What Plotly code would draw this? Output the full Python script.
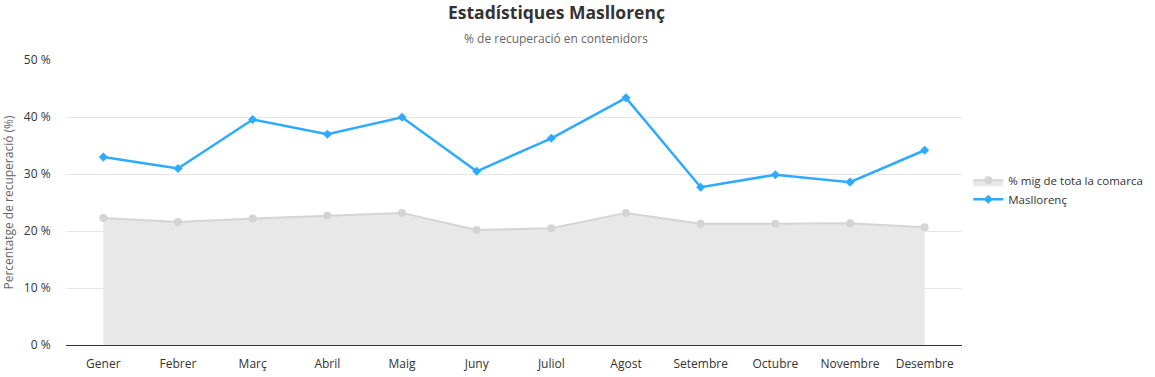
import plotly.graph_objects as go

months = ["Gener", "Febrer", "Març", "Abril", "Maig", "Juny", "Juliol", "Agost",
          "Setembre", "Octubre", "Novembre", "Desembre"]
comarca = [22.3, 21.6, 22.2, 22.7, 23.2, 20.2, 20.5, 23.2, 21.3, 21.3, 21.4, 20.7]
masllorenc = [33.0, 31.0, 39.6, 37.0, 40.0, 30.5, 36.3, 43.4, 27.7, 29.9, 28.6, 34.2]
ytick_vals = [0, 10, 20, 30, 40, 50]
ytick_text = ["0 %", "10 %", "20 %", "30 %", "40 %", "50 %"]

FONT = "Open Sans, Noto Sans, sans-serif"

fig = go.Figure()
fig.add_trace(go.Scatter(
    x=months, y=comarca, name="% mig de tota la comarca",
    mode="lines+markers", fill="tozeroy", fillcolor="#e8e8e8",
    line=dict(color="#d4d4d4", width=2),
    marker=dict(symbol="circle", size=8, color="#d4d4d4"),
))
fig.add_trace(go.Scatter(
    x=months, y=masllorenc, name="Masllorenç",
    mode="lines+markers",
    line=dict(color="#2eaaff", width=2.5),
    marker=dict(symbol="diamond", size=7, color="#2eaaff"),
))

fig.update_layout(
    width=1155, height=377,
    margin=dict(l=66, r=193, t=60, b=32, autoexpand=False),
    paper_bgcolor="white", plot_bgcolor="white",
    font=dict(family=FONT, size=12, color="#333333"),
    showlegend=True,
    legend=dict(x=1.007, y=0.545, xref="paper", yref="paper", xanchor="left", yanchor="middle",
                font=dict(size=11.5, color="#333333"), bgcolor="rgba(0,0,0,0)",
                tracegroupgap=0, itemwidth=30),
    annotations=[
        dict(text="<b>Estadístiques Masllorenç</b>", x=0.547, xref="paper", y=1.168, yref="paper",
             yanchor="middle", showarrow=False, font=dict(size=17.5, color="#333333", family=FONT),
             xanchor="center"),
        dict(text="% de recuperació en contenidors", x=0.547, xref="paper", y=1.077, yref="paper",
             yanchor="middle", showarrow=False, font=dict(size=12, color="#666666", family=FONT),
             xanchor="center"),
    ],
)
fig.update_xaxes(
    type="category", range=[-0.5, 11.5], showgrid=False,
    showline=True, linecolor="#333333", linewidth=1,
    ticks="outside", ticklen=8, tickcolor="white",
    tickfont=dict(size=12, color="#333333"), fixedrange=True,
)
fig.update_yaxes(
    range=[0, 50.05], tickvals=ytick_vals, ticktext=ytick_text,
    showgrid=True, gridcolor="#e6e6e6", gridwidth=1, zeroline=False,
    ticks="outside", ticklen=12, tickcolor="white",
    tickfont=dict(size=12, color="#333333"),
    title=dict(text="Percentatge de recuperació (%)", font=dict(size=12, color="#666666"), standoff=8),
)

fig.write_html("out.html", config={"displayModeBar": False},
               post_script="document.body.style.margin='0';document.body.style.overflow='hidden';")
